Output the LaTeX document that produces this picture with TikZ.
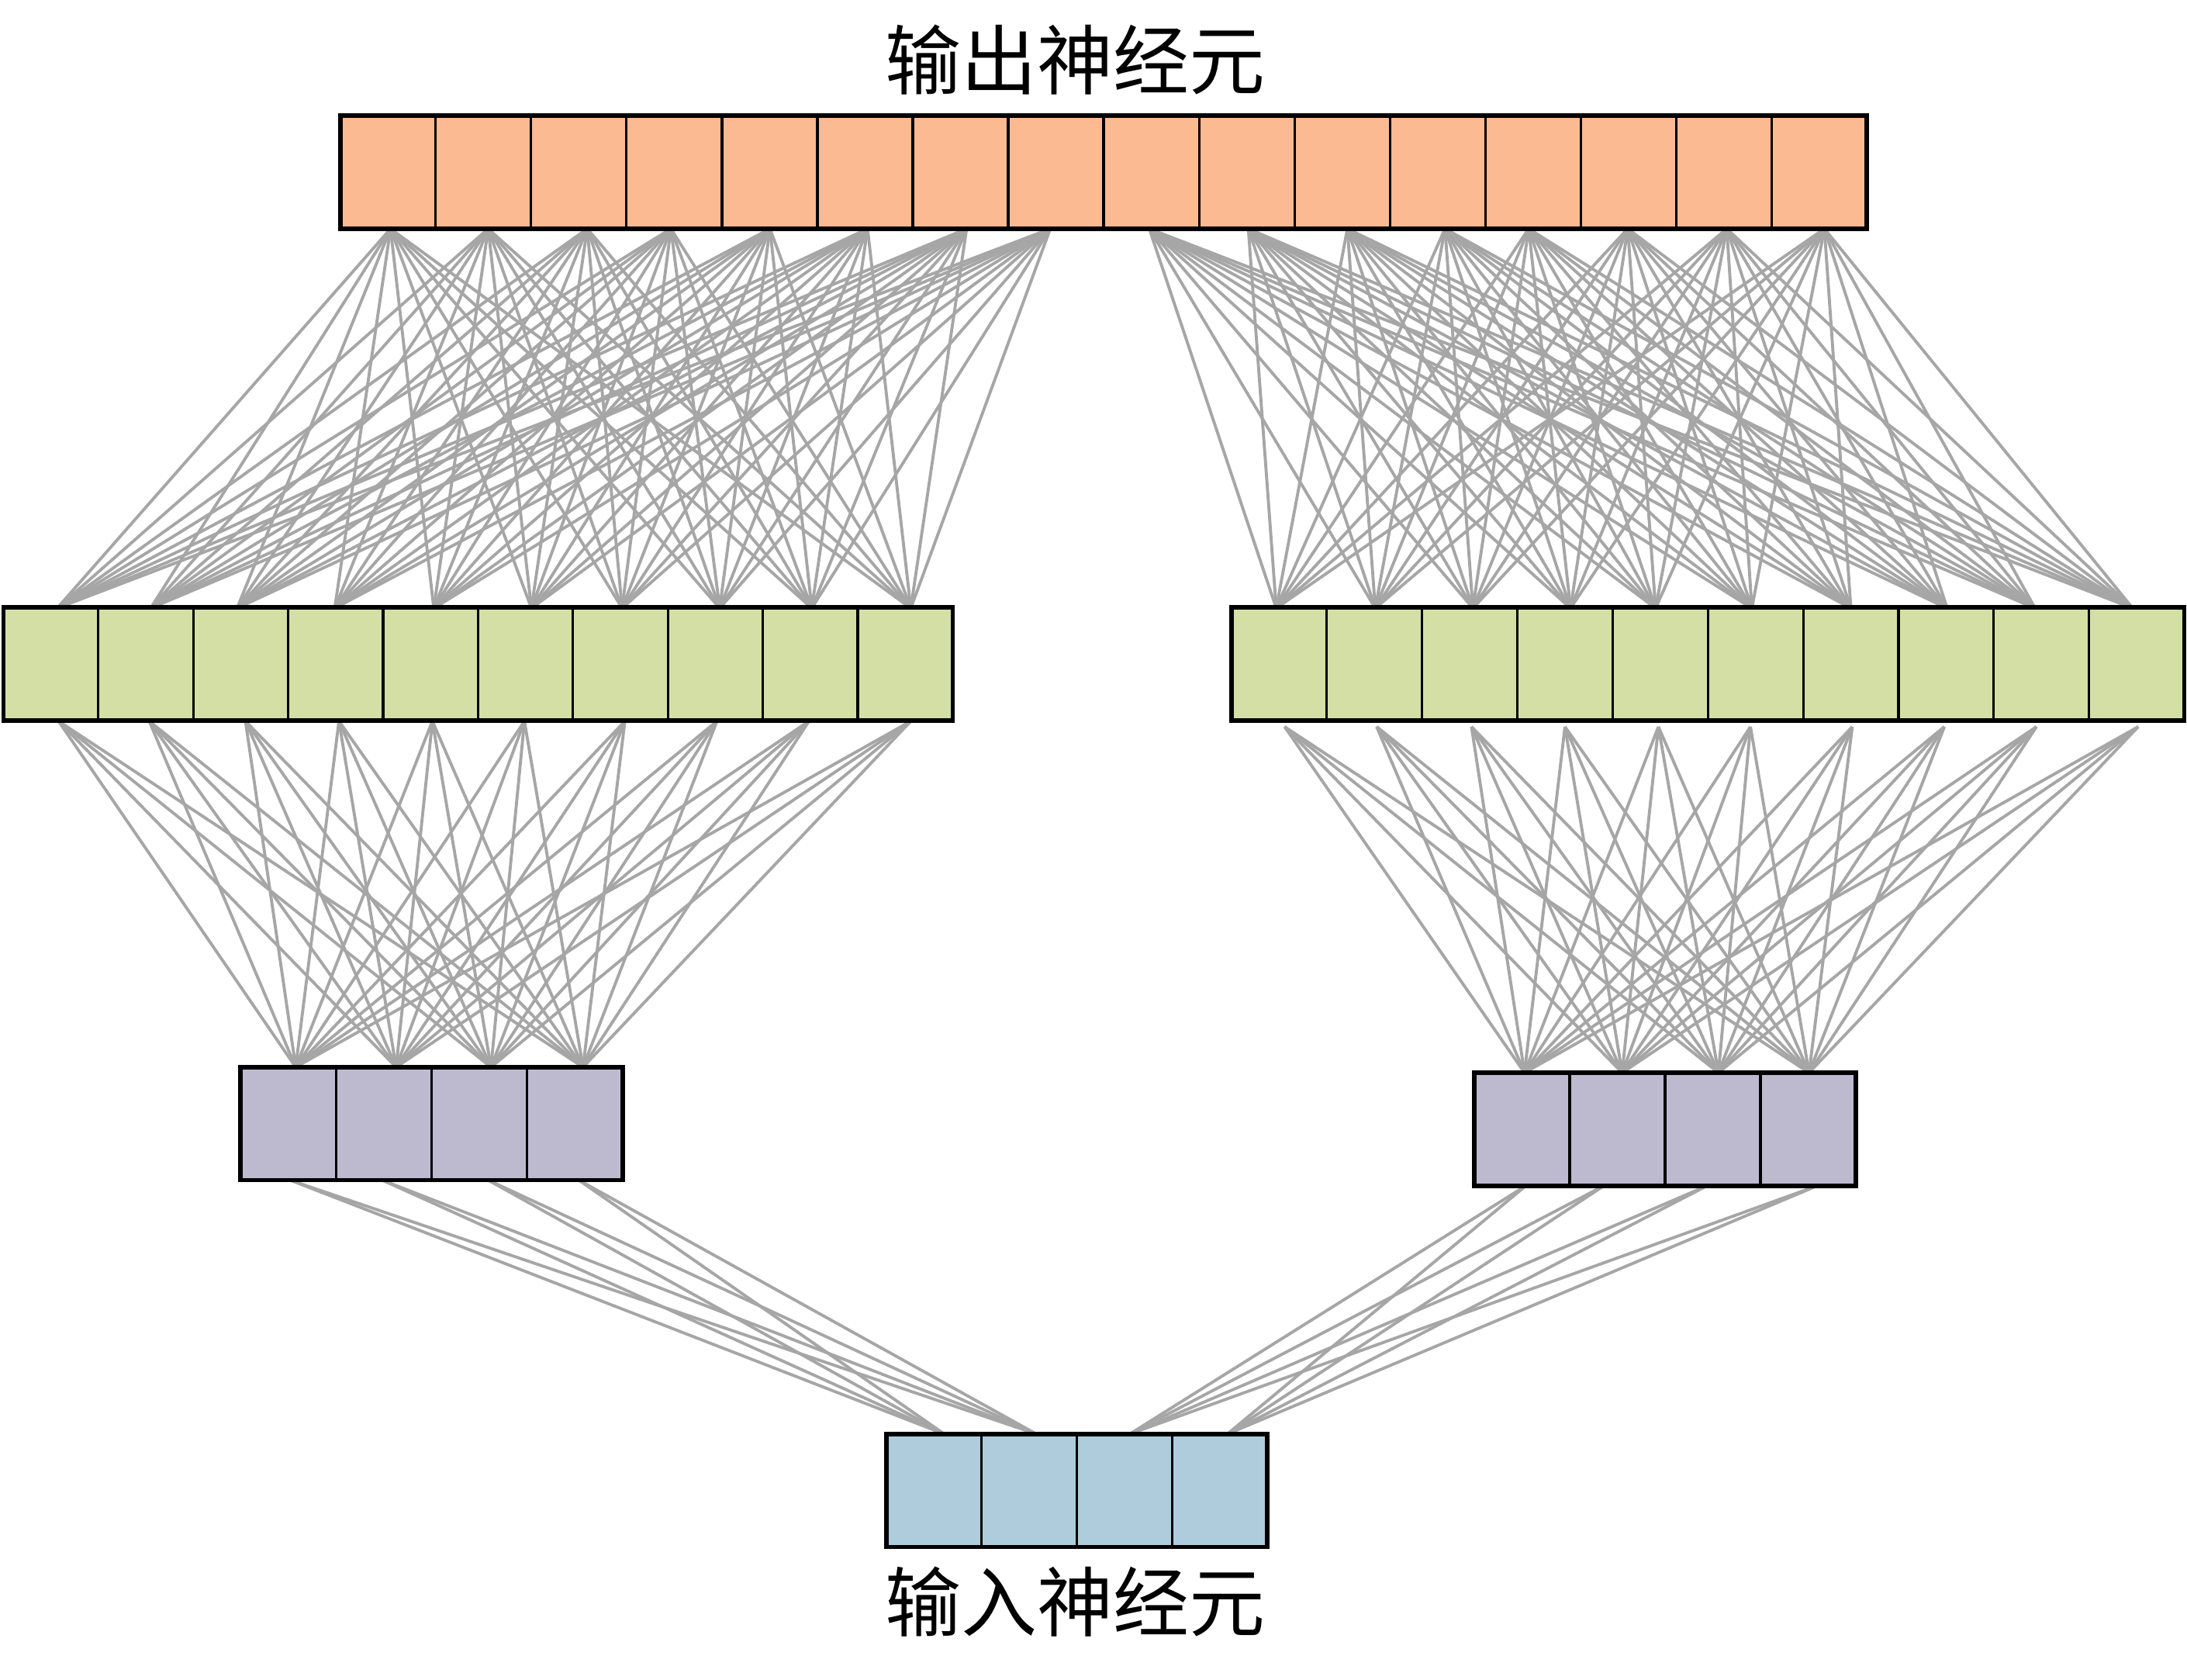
\documentclass[tikz,border=0pt]{standalone}
\usepackage{fontspec}
\newfontfamily\cjk{Noto Sans CJK SC}
\definecolor{cOrange}{HTML}{FBBA91}
\definecolor{cGreen}{HTML}{D3DFA5}
\definecolor{cPurple}{HTML}{BDBAD0}
\definecolor{cBlue}{HTML}{AECCDC}
\definecolor{linkgray}{HTML}{A6A6A6}
\tikzset{
  cellbox/.style={draw=black, line width=0.9pt, inner sep=0pt, outer sep=0pt, anchor=north west},
  link/.style={draw=linkgray, line width=1.1pt},
  rowframe/.style={draw=black, line width=1.6pt},
  lbl/.style={font=\cjk\fontsize{27.9pt}{30pt}\selectfont, inner sep=0pt}
}
% name, n, x0, x1, ytop, ybot, colour
\newcommand\cellrow[7]{%
  \pgfmathsetmacro\cw{(#4-#3)/#2}%
  \foreach \i in {1,...,#2}{%
    \node[cellbox, fill=#7, minimum width=\cw*0.018cm, minimum height=(#6-#5)*0.018cm]
      (#1\i) at ({#3+(\i-1)*\cw},#5) {};
  }%
  \draw[rowframe] (#11.north west) rectangle (#1#2.south east);
}
\begin{document}
\begin{tikzpicture}[x=0.018cm, y=-0.018cm]
\useasboundingbox (0,0) rectangle (1568,1204);

% attachment points
\foreach \x [count=\i] in {280,350,421,481,552,622,693,753}{\coordinate (Ta\i) at (\x,164);}
\foreach \x [count=\i] in {824,895,966,1036,1096,1167,1238,1308}{\coordinate (Tb\i) at (\x,164);}
\foreach \x [count=\i] in {41,108,170,240,311,381,446,516,582,653}{\coordinate (Ga\i) at (\x,436);}
\foreach \x [count=\i] in {915,986,1056,1126,1187,1256,1327,1396,1459,1529}{\coordinate (Gb\i) at (\x,436);}
\foreach \x [count=\i] in {42,107,176,243,310,376,448,514,580,653}{\coordinate (Gc\i) at (\x,517);}
\foreach \x [count=\i] in {921,987,1055,1122,1189,1255,1328,1394,1460,1533}{\coordinate (Gd\i) at (\x,521);}
\foreach \x [count=\i] in {212,284,352,418}{\coordinate (Pa\i) at (\x,765);}
\foreach \x [count=\i] in {1093,1163,1232,1297}{\coordinate (Pb\i) at (\x,769);}
\foreach \x [count=\i] in {208,274,350,415}{\coordinate (Pc\i) at (\x,846);}
\foreach \x [count=\i] in {1094,1150,1224,1303}{\coordinate (Pd\i) at (\x,850);}
\foreach \x [count=\i] in {677,743,810,880}{\coordinate (Ba\i) at (\x,1028);}

% connectors
\foreach \a in {1,...,8}{\foreach \b in {1,...,10}{\draw[link] (Ta\a) -- (Ga\b);}}
\foreach \a in {1,...,8}{\foreach \b in {1,...,10}{\draw[link] (Tb\a) -- (Gb\b);}}
\foreach \a in {1,...,10}{\foreach \b in {1,...,4}{\draw[link] (Gc\a) -- (Pa\b);}}
\foreach \a in {1,...,10}{\foreach \b in {1,...,4}{\draw[link] (Gd\a) -- (Pb\b);}}
\foreach \a in {1,...,4}{\foreach \b in {1,2}{\draw[link] (Pc\a) -- (Ba\b);}}
\foreach \a in {1,...,4}{\foreach \b in {3,4}{\draw[link] (Pd\a) -- (Ba\b);}}

% rows of cells
\cellrow{T}{16}{244}{1338.5}{83}{164}{cOrange}
\cellrow{L}{10}{2.5}{683}{435.5}{516.5}{cGreen}
\cellrow{R}{10}{883}{1566}{435.5}{516.5}{cGreen}
\cellrow{P}{4}{172.5}{446.5}{765}{846}{cPurple}
\cellrow{Q}{4}{1057}{1330.5}{769}{850}{cPurple}
\cellrow{B}{4}{635.5}{908.5}{1028}{1109}{cBlue}

% labels
\node[lbl] (title) at (771,43) {输出神经元};
\node[lbl] (bottom) at (771,1148) {输入神经元};
\end{tikzpicture}
\end{document}
